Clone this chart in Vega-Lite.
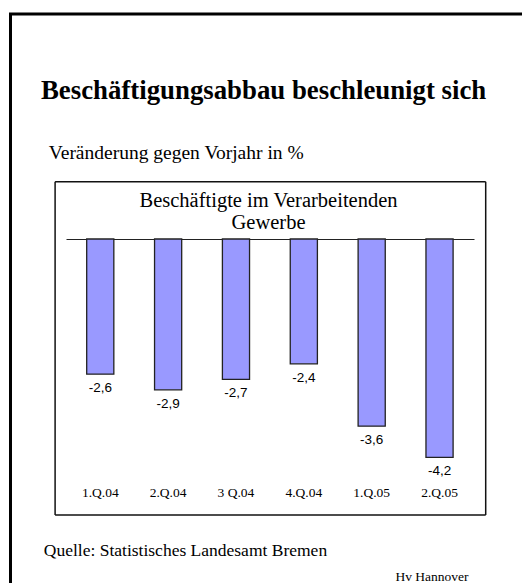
{
  "$schema": "https://vega.github.io/schema/vega-lite/v6.json",
  "width": 515,
  "height": 575,
  "autosize": {"type": "none"},
  "padding": {"left": 10.5, "top": 14, "right": 0, "bottom": 0},
  "background": "white",
  "title": {
    "text": "Beschäftigungsabbau beschleunigt sich",
    "anchor": "start",
    "frame": "group",
    "dx": 30.5,
    "offset": -112,
    "baseline": "alphabetic",
    "font": "Liberation Serif",
    "fontSize": 26.8,
    "fontWeight": "bold",
    "color": "#000"
  },
  "config": {
    "view": {"stroke": "#000", "strokeWidth": 3},
    "locale": {"number": {"decimal": ",", "thousands": ".", "grouping": [3], "currency": ["", " €"], "minus": "-"}},
    "axis": {"titleFontWeight": "normal", "titleColor": "#000", "titleFont": "Liberation Serif", "labelColor": "#000", "grid": false}
  },
  "data": {
    "values": [
      {"quartal": "1.Q.04", "veraenderung": -2.6},
      {"quartal": "2.Q.04", "veraenderung": -2.9},
      {"quartal": "3 Q.04", "veraenderung": -2.7},
      {"quartal": "4.Q.04", "veraenderung": -2.4},
      {"quartal": "1.Q.05", "veraenderung": -3.6},
      {"quartal": "2.Q.05", "veraenderung": -4.2}
    ]
  },
  "resolve": {"axis": {"x": "independent", "y": "independent"}},
  "layer": [
    {
      "mark": {"type": "bar", "fill": "#9999ff", "stroke": "#222", "strokeWidth": 1.3},
      "encoding": {
        "x": {
          "field": "quartal", "type": "nominal", "sort": null,
          "scale": {"range": [44.1, 474.7], "paddingInner": 0.6, "paddingOuter": 0.473},
          "axis": {
            "orient": "bottom", "offset": -74.5,
            "domain": true, "domainColor": "#111", "domainWidth": 1.5,
            "ticks": false, "labels": true, "labelAngle": 0,
            "labelFont": "Liberation Serif", "labelFontSize": 13.5,
            "labelBaseline": "middle", "labelPadding": -21.8,
            "labelOverlap": false, "labelFlush": false,
            "title": "Quelle: Statistisches Landesamt Bremen",
            "titleX": 32.8, "titleY": 40.8, "titleAlign": "left",
            "titleBaseline": "alphabetic", "titleFontSize": 17.5
          }
        },
        "y": {
          "field": "veraenderung", "type": "quantitative",
          "scale": {"domain": [-5.298, 1.1115], "range": [500.5, 167.2], "nice": false, "zero": false},
          "axis": {
            "orient": "left", "offset": -44.1,
            "domain": true, "domainColor": "#111", "domainWidth": 1.5,
            "labels": false, "ticks": true, "values": [0],
            "tickSize": -420, "tickColor": "#222", "tickWidth": 1.2,
            "tickDash": [0, 11.4, 408, 60],
            "title": "Veränderung gegen Vorjahr in %",
            "titleAngle": 0, "titleX": -6.3, "titleY": 144,
            "titleAlign": "left", "titleBaseline": "alphabetic", "titleFontSize": 19.5
          }
        },
        "y2": {"datum": 0}
      }
    },
    {
      "mark": {"type": "text", "font": "Liberation Sans", "fontSize": 13.5, "baseline": "middle", "dy": 14, "color": "#000"},
      "encoding": {
        "x": {
          "field": "quartal", "type": "nominal", "sort": null,
          "axis": {
            "orient": "top", "offset": -167.2,
            "domain": true, "domainColor": "#111", "domainWidth": 1.5,
            "ticks": false, "labels": false,
            "title": ["Beschäftigte im Verarbeitenden", "Gewerbe"],
            "titleX": 257.5, "titleY": 19, "titleAlign": "center",
            "titleBaseline": "middle", "titleFontSize": 20.5, "titleLineHeight": 22.5
          }
        },
        "y": {
          "field": "veraenderung", "type": "quantitative",
          "axis": {
            "orient": "right", "offset": -40.3,
            "domain": true, "domainColor": "#111", "domainWidth": 1.5,
            "ticks": false, "labels": false,
            "title": "Hv Hannover",
            "titleAngle": 0, "titleX": -90.2, "titleY": 566,
            "titleAlign": "left", "titleBaseline": "alphabetic", "titleFontSize": 13.5
          }
        },
        "text": {"field": "veraenderung", "type": "quantitative", "format": ".1f"}
      }
    }
  ]
}
